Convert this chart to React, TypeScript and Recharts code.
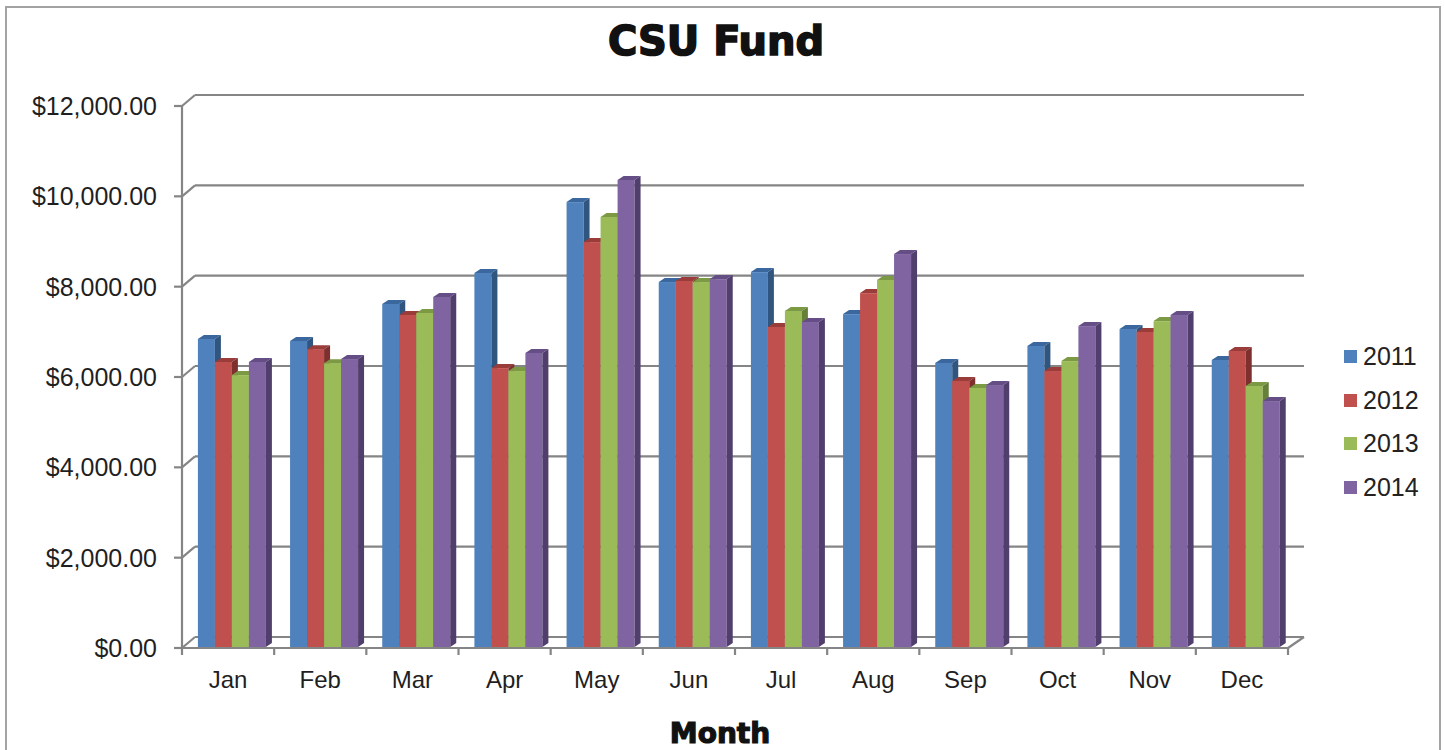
import { Bar, BarChart, CartesianGrid, Legend, XAxis, YAxis } from "recharts"

// values (front-face tops)
const months = ["Jan", "Feb", "Mar", "Apr", "May", "Jun", "Jul", "Aug", "Sep", "Oct", "Nov", "Dec"]
const years = ["2011", "2012", "2013", "2014"]
const fund2011 = [6820, 6775, 7595, 8280, 9850, 8080, 8300, 7370, 6290, 6665, 7040, 6355]
const fund2012 = [6310, 6595, 7350, 6175, 8965, 8105, 7085, 7835, 5890, 6110, 6975, 6555]
const fund2013 = [6020, 6285, 7395, 6110, 9520, 8080, 7440, 8125, 5735, 6330, 7215, 5780]
const fund2014 = [6310, 6375, 7750, 6510, 10340, 8145, 7195, 8700, 5800, 7105, 7350, 5445]
const yTicks = [0, 2000, 4000, 6000, 8000, 10000, 12000]

const data = months.map((m, i) => ({
  month: m,
  y2011: fund2011[i],
  y2012: fund2012[i],
  y2013: fund2013[i],
  y2014: fund2014[i],
}))

// office-style palette: front / top / side
const FRONT = ["#4F81BD", "#C0504D", "#9BBB59", "#8064A2"]
const TOP = ["#3A679E", "#9A3C3A", "#7C9A44", "#654E85"]
const SIDE = ["#30557F", "#7E302E", "#66803A", "#503E6C"]

const W = 1445
const H = 750
const PLOT_LEFT = 182
const PLOT_RIGHT = 1288
const PLOT_TOP = 106
const PLOT_BOTTOM = 648
const GRID = "#858585"
const FONT = "'Liberation Sans', Arial, sans-serif"

// back wall offset of the fake 3d box
const BX = 13
const BXR = 16
const BY = 11
// bar depth
const DX = 6
const DY = 4

function make3dBar(i: number) {
  return (props: any) => {
    const { x, y, width, height } = props
    if (height == null || width == null) return <g />
    const x0 = x + 3
    const y0 = y - 1
    const w = width
    const h = height
    return (
      <g>
        <rect x={x0} y={y0} width={w} height={h} fill={FRONT[i]} />
        <polygon
          points={`${x0},${y0} ${x0 + DX},${y0 - DY} ${x0 + w + DX},${y0 - DY} ${x0 + w},${y0}`}
          fill={TOP[i]}
        />
        <polygon
          points={`${x0 + w},${y0} ${x0 + w + DX},${y0 - DY} ${x0 + w + DX},${y0 + h - DY} ${x0 + w},${y0 + h}`}
          fill={SIDE[i]}
        />
      </g>
    )
  }
}

function gridLine(props: any) {
  const { x1, x2, y1 } = props
  const floor = Math.abs(y1 - PLOT_BOTTOM) < 1
  const band = (x2 - x1) / months.length
  return (
    <g stroke={GRID} strokeWidth={2.2} fill="none">
      <line x1={x1} y1={y1} x2={x1 + BX} y2={y1 - BY} />
      <line x1={x1 + BX} y1={y1 - BY} x2={x2 + BXR} y2={y1 - BY} />
      {floor && (
        <>
          <line x1={x1} y1={y1} x2={x2} y2={y1} />
          <line x1={x2} y1={y1} x2={x2 + BXR} y2={y1 - BY} />
          {Array.from({ length: months.length + 1 }, (_, k) => (
            <line key={k} x1={x1 + k * band} y1={y1} x2={x1 + k * band} y2={y1 + 7} />
          ))}
        </>
      )}
    </g>
  )
}

const money = (v: number) =>
  "$" + v.toLocaleString("en-US", { minimumFractionDigits: 2, maximumFractionDigits: 2 })

function renderLegend() {
  return (
    <div>
      {years.map((yr, i) => (
        <div key={yr} style={{ display: "flex", alignItems: "center", height: 43.5 }}>
          <span style={{ width: 13, height: 13, background: FRONT[i], marginRight: 6, display: "inline-block" }} />
          <span style={{ fontSize: 25, fontFamily: FONT, color: "#222", lineHeight: 1 }}>{yr}</span>
        </div>
      ))}
    </div>
  )
}

export default function App() {
  return (
    <div
      style={{
        position: "absolute",
        left: 0,
        top: 0,
        width: W,
        height: H,
        overflow: "hidden",
        background: "#fff",
      }}
    >
      <div
        style={{
          position: "absolute",
          left: 5,
          top: 6,
          width: 1436,
          height: 800,
          border: "2px solid #a3a3a3",
          boxSizing: "border-box",
        }}
      />
      <BarChart
        width={W}
        height={H}
        data={data}
        margin={{ top: PLOT_TOP, right: W - PLOT_RIGHT, bottom: H - PLOT_BOTTOM - 30, left: 0 }}
        barCategoryGap="14%"
        barGap={0}
      >
        <CartesianGrid vertical={false} horizontal={gridLine} />
        <XAxis
          dataKey="month"
          height={30}
          axisLine={false}
          tickLine={false}
          tickSize={0}
          tickMargin={23}
          interval={0}
          tick={{ fill: "#1f1f1f", fontSize: 24, fontFamily: FONT }}
        />
        <YAxis
          width={PLOT_LEFT}
          domain={[0, 12000]}
          ticks={yTicks}
          interval={0}
          tickFormatter={money}
          axisLine={{ stroke: GRID, strokeWidth: 2.2 }}
          tickLine={{ stroke: GRID, strokeWidth: 2.2 }}
          tickSize={8}
          tickMargin={17}
          tick={{ fill: "#1f1f1f", fontSize: 25, fontFamily: FONT }}
        />
        <Legend
          layout="horizontal"
          verticalAlign="middle"
          align="center"
          content={renderLegend}
          wrapperStyle={{ position: "absolute", left: 1344, top: 335, width: 100 }}
        />
        <Bar dataKey="y2011" name="2011" fill={FRONT[0]} shape={make3dBar(0)} isAnimationActive={false} />
        <Bar dataKey="y2012" name="2012" fill={FRONT[1]} shape={make3dBar(1)} isAnimationActive={false} />
        <Bar dataKey="y2013" name="2013" fill={FRONT[2]} shape={make3dBar(2)} isAnimationActive={false} />
        <Bar dataKey="y2014" name="2014" fill={FRONT[3]} shape={make3dBar(3)} isAnimationActive={false} />
      </BarChart>
      <svg
        width={W}
        height={H}
        style={{ position: "absolute", left: 0, top: 0, pointerEvents: "none" }}
      >
        <text
          x={716}
          y={55}
          textAnchor="middle"
          fontFamily="'DejaVu Sans', sans-serif"
          fontWeight="bold"
          fontSize={40}
          fill="#111"
          stroke="#111"
          strokeWidth={1.6}
        >
          CSU Fund
        </text>
        <text
          x={720}
          y={743}
          textAnchor="middle"
          fontFamily="'DejaVu Sans', sans-serif"
          fontWeight="bold"
          fontSize={28}
          fill="#111"
          stroke="#111"
          strokeWidth={1.2}
        >
          Month
        </text>
      </svg>
    </div>
  )
}
